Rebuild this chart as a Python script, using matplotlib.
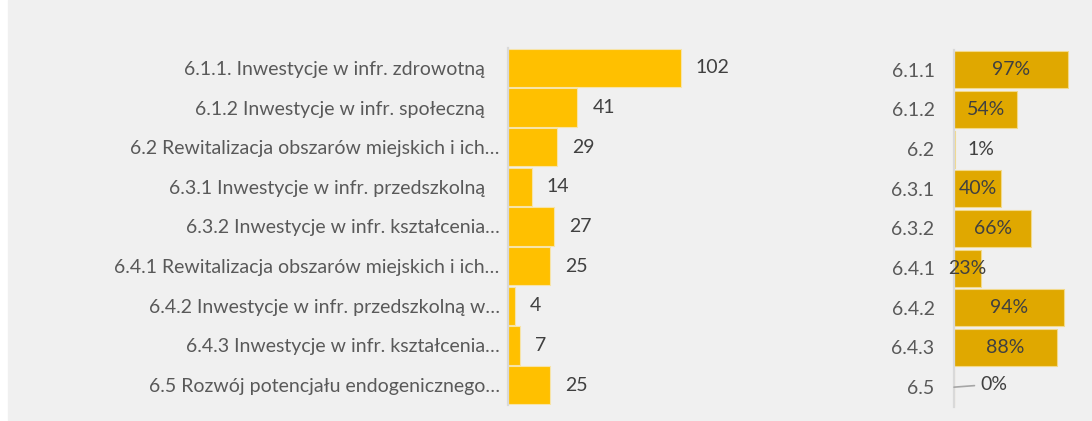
import matplotlib.pyplot as plt
import numpy as np

# dane
etykiety = ['6.1.1. Inwestycje w infr. zdrowotną   ',
            '6.1.2 Inwestycje w infr. społeczną   ',
            '6.2 Rewitalizacja obszarów miejskich i ich…',
            '6.3.1 Inwestycje w infr. przedszkolną   ',
            '6.3.2 Inwestycje w infr. kształcenia…',
            '6.4.1 Rewitalizacja obszarów miejskich i ich…',
            '6.4.2 Inwestycje w infr. przedszkolną w…',
            '6.4.3 Inwestycje w infr. kształcenia…',
            '6.5 Rozwój potencjału endogenicznego…']
liczba = [102, 41, 29, 14, 27, 25, 4, 7, 25]

kody = ['6.1.1', '6.1.2', '6.2', '6.3.1', '6.3.2', '6.4.1', '6.4.2', '6.4.3', '6.5']
procent = [0.97, 0.54, 0.01, 0.40, 0.66, 0.23, 0.94, 0.88, 0.0]

plt.rcParams['font.family'] = ['Lato', 'DejaVu Sans']
W, H = 1092, 421
tlo = '#f0f0f0'
fs = 14

fig = plt.figure(figsize=(W / 100, H / 100), dpi=100)
fig.patch.set_facecolor('white')
fig.patches.append(plt.Rectangle((8 / W, 1 / H), 1 - 8 / W, 1 - 1 / H,
                                 transform=fig.transFigure, color=tlo, zorder=-10))


def osie(x0, x1, ytop, ybot):
    ax = fig.add_axes([x0 / W, 1 - ybot / H, (x1 - x0) / W, (ybot - ytop) / H])
    ax.set_facecolor('none')
    for s in ['top', 'right', 'bottom']:
        ax.spines[s].set_visible(False)
    ax.spines['left'].set_color('#d9d9d9')
    ax.spines['left'].set_linewidth(1.6)
    ax.set_xticks([])
    ax.tick_params(axis='y', length=0, labelcolor='#595959', labelsize=fs)
    return ax


# lewy wykres
ax1 = osie(508, 847, 48, 405)
y = np.arange(len(liczba))
ax1.barh(y, liczba, height=0.96, color='#ffc000', edgecolor='#f7e4a8', linewidth=0.8)
ax1.set_xlim(0, 200)
ax1.set_ylim(len(liczba) - 0.5, -0.5)
ax1.set_yticks(y)
ax1.set_yticklabels(etykiety)
ax1.tick_params(axis='y', pad=6)
for i, v in enumerate(liczba):
    ax1.annotate(str(v), (v, i), xytext=(15, 0), textcoords='offset pixels',
                 va='center', ha='left', fontsize=fs, color='#404040')

# prawy wykres
ax2 = osie(954, 1089, 50, 407)
ax2.barh(y, procent, height=0.93, color='#e0a800', edgecolor='#f2d98a', linewidth=0.8)
ax2.set_xlim(0, 1.15)
ax2.set_ylim(len(procent) - 0.5, -0.5)
ax2.set_yticks(y)
ax2.set_yticklabels(kody)
ax2.tick_params(axis='y', pad=14)
for i, v in enumerate(procent):
    tekst = f'{v:.0%}'
    if v >= 0.2:
        ax2.text(v / 2, i, tekst, va='center', ha='center', fontsize=fs, color='#404040')
    elif v > 0:
        ax2.annotate(tekst, (v, i), xytext=(12, 0), textcoords='offset pixels',
                     va='center', ha='left', fontsize=fs, color='#404040')
    else:
        ax2.annotate(tekst, (0, i), xytext=(26, 3), textcoords='offset pixels',
                     va='center', ha='left', fontsize=fs, color='#404040',
                     arrowprops=dict(arrowstyle='-', color='#a6a6a6', lw=1.2,
                                     shrinkA=2, shrinkB=0))

fig.savefig('out.png', dpi=100, facecolor=fig.get_facecolor())
